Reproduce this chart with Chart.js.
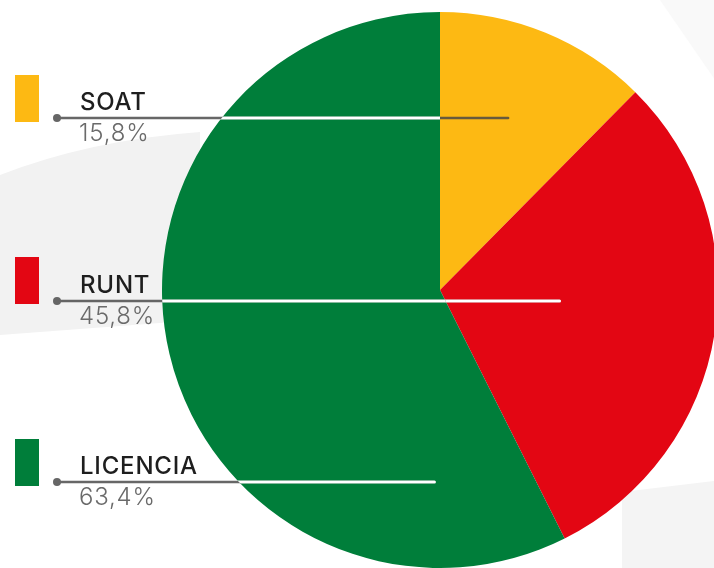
<!DOCTYPE html>
<html>
<head>
<meta charset="utf-8">
<script src="https://cdn.jsdelivr.net/npm/chart.js"></script>
<style>
  html, body { margin: 0; padding: 0; overflow: hidden; background: #ffffff; }
  #wrap { width: 722px; height: 568px; }
</style>
</head>
<body>
<div id="wrap"><canvas id="c" width="722" height="568"></canvas></div>
<script>
// ---- data ----
const categories = ['SOAT', 'RUNT', 'LICENCIA'];
const labelValues = ['15,8%', '45,8%', '63,4%'];        // printed values
const sliceShares = [12.4, 30.2, 57.4];                  // slice sizes as drawn in the picture
const sliceColors = ['#FDB913', '#E30613', '#007E3A'];

// ---- layout of the side legend (styling only) ----
const legendLayout = {
  boxX: 15, boxW: 24, boxH: 47,
  boxTop: [75, 257, 439],
  lineY: [118, 301, 482],
  lineStartX: 57,
  lineEndR: [0.245, 0.43, -0.02],   // leader line end, in pie radii from centre
  textX: 80
};

const bgPlugin = {
  id: 'bg',
  beforeDraw(chart) {
    const ctx = chart.ctx;
    ctx.save();
    ctx.fillStyle = '#ffffff';
    ctx.fillRect(0, 0, chart.width, chart.height);
    ctx.fillStyle = '#f2f2f2';
    ctx.beginPath();
    ctx.moveTo(0, 175);
    ctx.quadraticCurveTo(90, 140, 200, 132);
    ctx.lineTo(200, 320);
    ctx.lineTo(0, 335);
    ctx.closePath();
    ctx.fill();
    ctx.fillStyle = '#f4f4f4';
    ctx.beginPath();
    ctx.moveTo(622, 492);
    ctx.lineTo(722, 480);
    ctx.lineTo(722, 568);
    ctx.lineTo(622, 568);
    ctx.closePath();
    ctx.fill();
    ctx.fillStyle = '#f9f9f9';
    ctx.beginPath();
    ctx.moveTo(660, 0);
    ctx.lineTo(722, 0);
    ctx.lineTo(722, 90);
    ctx.closePath();
    ctx.fill();
    ctx.restore();
  }
};

const legendPlugin = {
  id: 'sideLegend',
  afterDatasetsDraw(chart) {
    const ctx = chart.ctx;
    const meta = chart.getDatasetMeta(0);
    const arc0 = meta.data[0];
    const cx = arc0.x, R = arc0.outerRadius;
    const L = legendLayout;
    ctx.save();
    categories.forEach((name, i) => {
      // colour box
      ctx.fillStyle = sliceColors[i];
      ctx.fillRect(L.boxX, L.boxTop[i], L.boxW, L.boxH);
      const y = L.lineY[i];
      const endX = cx + L.lineEndR[i] * R;
      // grey leader line
      ctx.strokeStyle = 'rgba(70,70,70,0.82)';
      ctx.lineWidth = 2.5;
      ctx.lineCap = 'round';
      ctx.beginPath();
      ctx.moveTo(L.lineStartX, y);
      ctx.lineTo(endX, y);
      ctx.stroke();
      ctx.fillStyle = '#666666';
      ctx.beginPath();
      ctx.arc(L.lineStartX, y, 4, 0, Math.PI * 2);
      ctx.fill();
      // white part over green and red slices
      [1, 2].forEach(k => {
        const a = meta.data[k];
        ctx.save();
        ctx.beginPath();
        ctx.moveTo(a.x, a.y);
        ctx.arc(a.x, a.y, a.outerRadius, a.startAngle, a.endAngle);
        ctx.closePath();
        ctx.clip();
        ctx.strokeStyle = '#ffffff';
        ctx.lineWidth = 3;
        ctx.beginPath();
        ctx.moveTo(L.lineStartX, y);
        ctx.lineTo(endX, y);
        ctx.stroke();
        ctx.restore();
      });
      // texts
      ctx.textAlign = 'left';
      ctx.textBaseline = 'alphabetic';
      ctx.letterSpacing = '0.8px';
      ctx.fillStyle = '#1e1e1e';
      ctx.font = '500 24px Inter, "Noto Sans", sans-serif';
      ctx.fillText(name, L.textX, y - 8);
      ctx.fillStyle = '#6a6a6a';
      ctx.font = '300 24px Inter, "Noto Sans", sans-serif';
      ctx.fillText(labelValues[i], L.textX - 1, y + 23);
    });
    ctx.restore();
  }
};

new Chart(document.getElementById('c'), {
  type: 'pie',
  data: {
    labels: categories,
    datasets: [{
      data: sliceShares,
      backgroundColor: sliceColors,
      borderWidth: 0,
      hoverOffset: 0
    }]
  },
  options: {
    responsive: false,
    animation: false,
    layout: { padding: { left: 162, right: 4, top: 12, bottom: 0 } },
    plugins: {
      legend: { display: false },
      tooltip: { enabled: false },
      title: { display: false }
    }
  },
  plugins: [bgPlugin, legendPlugin]
});
</script>
</body>
</html>
